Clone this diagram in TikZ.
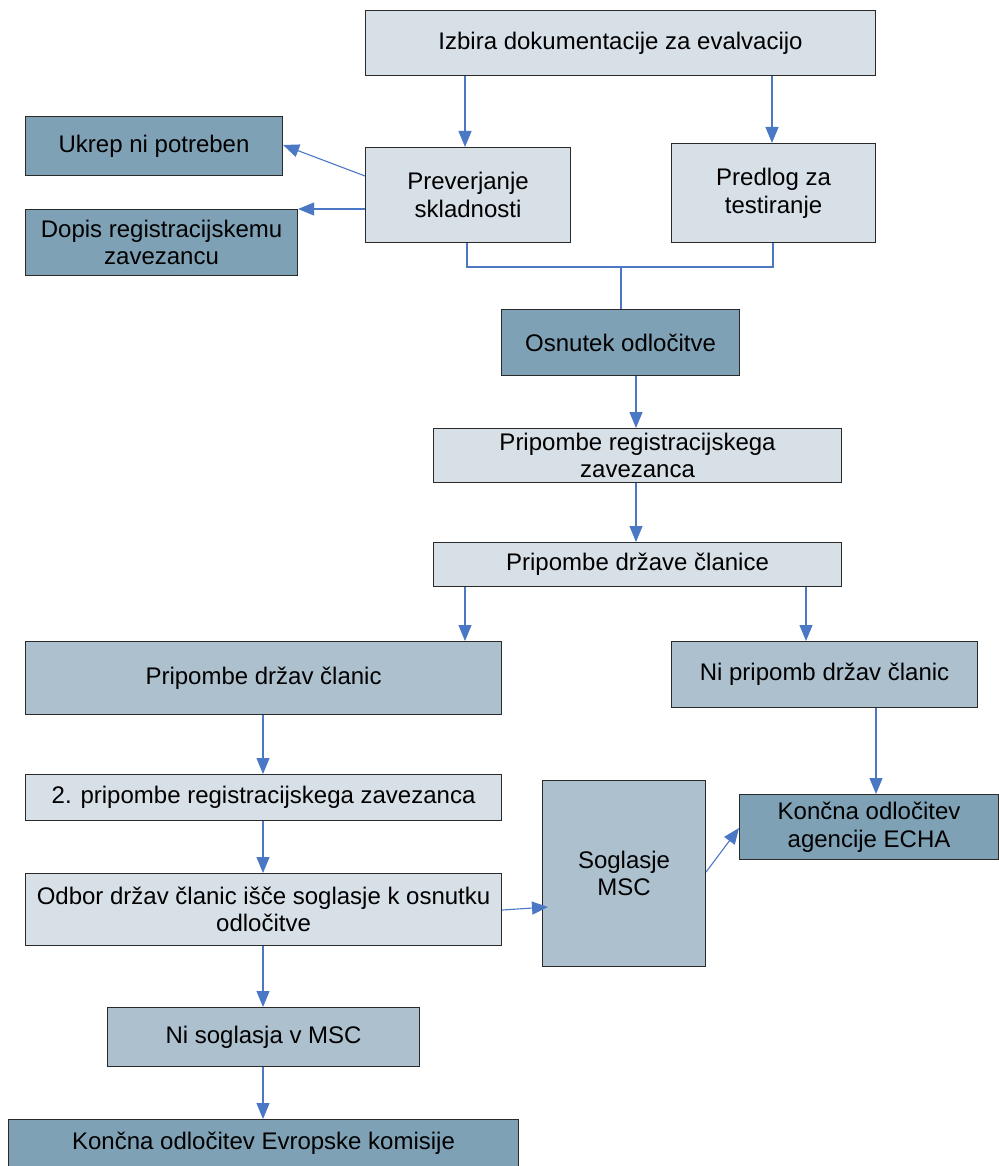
\documentclass[tikz,border=0pt]{standalone}
\usepackage{fontspec}
\setmainfont{Liberation Sans}
\usetikzlibrary{arrows.meta}
\definecolor{lightfill}{HTML}{D7DFE7}
\definecolor{medfill}{HTML}{ADC0CE}
\definecolor{darkfill}{HTML}{7FA1B5}
\definecolor{linkblue}{HTML}{4A78C4}
\definecolor{edge}{HTML}{2A2A2A}
\tikzset{
  box/.style={draw=edge, line width=1.1pt, inner sep=0pt, anchor=north west, align=center,
    font=\fontsize{24}{27.5}\selectfont},
  lbox/.style={box, fill=lightfill},
  mbox/.style={box, fill=medfill},
  dbox/.style={box, fill=darkfill},
  link/.style={draw=linkblue, line width=1.1pt},
  arr/.style={link, -{Triangle[length=16pt,width=13pt]}},
}
\newcommand{\bx}[7]{% style, name, x1, y1, x2, y2, text
  \node[#1, minimum width={(#5-#3)*1pt}, minimum height={(#6-#4)*1pt}] (#2) at (#3,#4) {#7};}
\begin{document}
\begin{tikzpicture}[x=1pt,y=-1pt]
\useasboundingbox (0,0) rectangle (998,1166);
\bx{lbox}{izb}{365}{10}{875}{75}{Izbira dokumentacije za evalvacijo}
\bx{dbox}{ukr}{25}{116}{282}{175}{Ukrep ni potreben}
\bx{lbox}{pre}{365}{147}{570}{242}{Preverjanje\\skladnosti}
\bx{lbox}{pred}{671}{143}{875}{242}{Predlog za\\testiranje}
\bx{dbox}{dop}{25}{209}{297}{275}{Dopis registracijskemu\\zavezancu}
\bx{dbox}{osn}{501}{309}{739}{375}{Osnutek odločitve}
\bx{lbox}{prz}{433}{428}{841}{482}{Pripombe registracijskega\\zavezanca}
\bx{lbox}{pdc}{433}{542}{841}{586}{Pripombe države članice}
\bx{mbox}{pdcs}{25}{641}{501}{714}{Pripombe držav članic}
\bx{mbox}{nip}{671}{641}{977}{707}{Ni pripomb držav članic}
\bx{lbox}{dru}{25}{774}{501}{820}{2. pripombe registracijskega zavezanca}
\bx{mbox}{sog}{542}{780}{705}{966}{Soglasje\\MSC}
\bx{dbox}{echa}{739}{794}{998}{859}{Končna odločitev\\agencije ECHA}
\bx{lbox}{odb}{25}{873}{501}{945}{Odbor držav članic išče soglasje k osnutku\\odločitve}
\bx{mbox}{nis}{107}{1007}{419}{1066}{Ni soglasja v MSC}
\bx{dbox}{kon}{8}{1119}{518}{1167}{Končna odločitev Evropske komisije}
% connectors
\draw[arr] (izb.south -| 465,0) -- (pre.north -| 465,0);
\draw[arr] (izb.south -| 772,0) -- (pred.north -| 772,0);
\draw[arr] (pre.west |- 0,176) -- (ukr.east |- 0,145);
\draw[arr] (pre.west |- 0,209) -- (dop.east |- 0,209);
\coordinate (jn) at (621,267);
\draw[link] (pre.south -| 467,0) |- (jn) -| (pred.south -| 773,0);
\draw[link] (jn) -- (osn.north -| jn);
\draw[arr] (osn.south -| 636,0) -- (prz.north -| 636,0);
\draw[arr] (prz.south -| 636,0) -- (pdc.north -| 636,0);
\draw[arr] (pdc.south -| 465,0) -- (pdcs.north -| 465,0);
\draw[arr] (pdc.south -| 806,0) -- (nip.north -| 806,0);
\draw[arr] (pdcs.south -| 263,0) -- (dru.north -| 263,0);
\draw[arr] (nip.south -| 876,0) -- (echa.north -| 876,0);
\draw[arr] (dru.south -| 263,0) -- (odb.north -| 263,0);
\draw[arr] (odb.east |- 0,910) -- (548,907);
\draw[arr] (sog.east |- 0,872) -- (echa.west |- 0,828);
\draw[arr] (odb.south -| 263,0) -- (nis.north -| 263,0);
\draw[arr] (nis.south -| 263,0) -- (kon.north -| 263,0);
\end{tikzpicture}
\end{document}
